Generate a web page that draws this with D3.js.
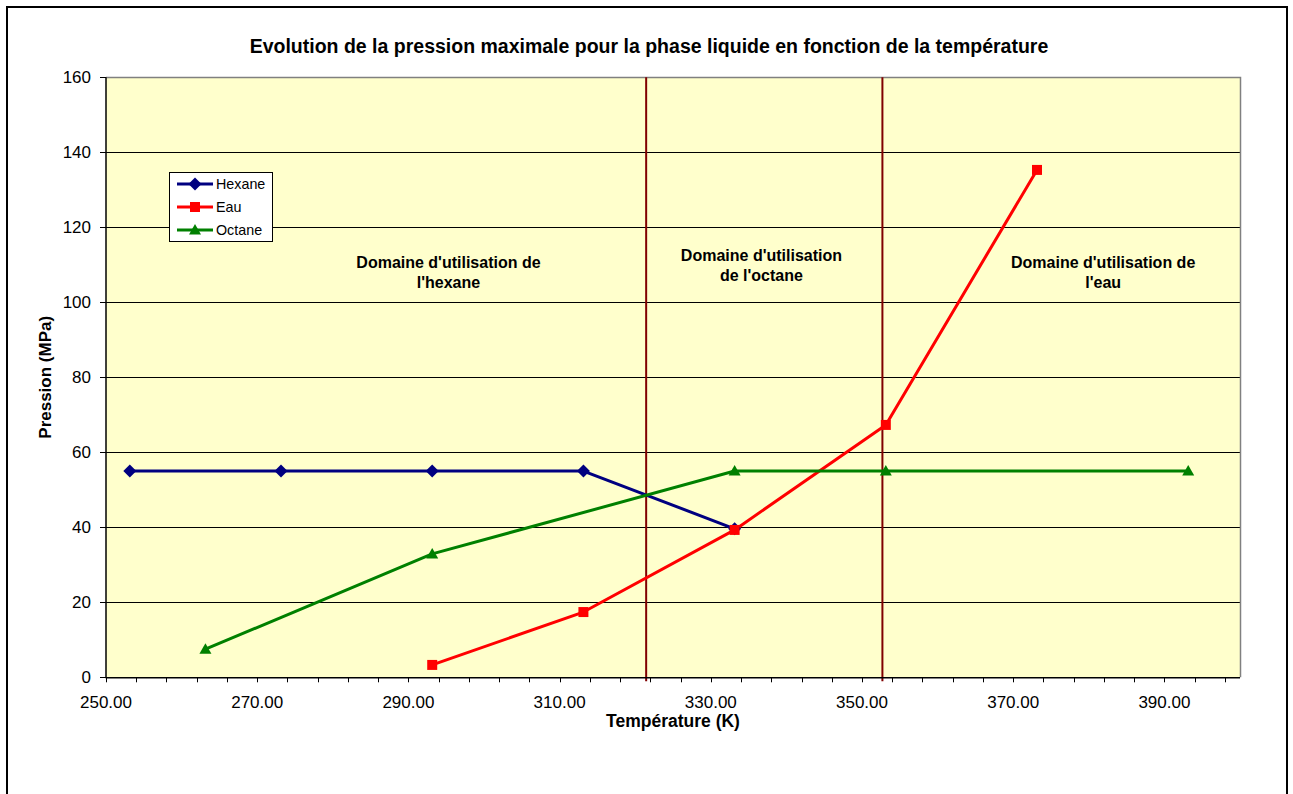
<!DOCTYPE html>
<html>
<head>
<meta charset="utf-8">
<script src="https://cdn.jsdelivr.net/npm/d3@7"></script>
<style>
  html, body { margin: 0; padding: 0; background: #fff; }
  svg { display: block; font-family: "Liberation Sans", Arial, sans-serif; }
</style>
</head>
<body>
<svg id="chart" width="1293" height="794"></svg>
<script>
// ---- data ----
const title = "Evolution de la pression maximale pour la phase liquide en fonction de la température";
const xTitle = "Température (K)";
const yTitle = "Pression (MPa)";

const hexaneT = [253.15, 273.15, 293.15, 313.15, 333.15];
const hexaneP = [55, 55, 55, 55, 39.6];

const eauT = [293.15, 313.15, 333.15, 353.15, 373.15];
const eauP = [3.3, 17.4, 39.3, 67.3, 135.3];

const octaneT = [263.15, 293.15, 333.15, 353.15, 393.15];
const octaneP = [7.5, 32.9, 55, 55, 55];

const limitT = [321.45, 352.7];   // vertical domain boundaries

const xTicks = [250, 270, 290, 310, 330, 350, 370, 390];
const yTicks = [0, 20, 40, 60, 80, 100, 120, 140, 160];

const seriesNames = ["Hexane", "Eau", "Octane"];
const domainLabels = [
  ["Domaine d'utilisation de", "l'hexane"],
  ["Domaine d'utilisation", "de l'octane"],
  ["Domaine d'utilisation de", "l'eau"]
];

// ---- layout ----
const svg = d3.select("#chart");
const L = 106, R = 1240, T = 77.3, B = 677.3;
const x = d3.scaleLinear().domain([250, 400]).range([L, R]);
const y = d3.scaleLinear().domain([0, 160]).range([B, T]);

const colors = { Hexane: "#000080", Eau: "#FF0000", Octane: "#008000" };
const series = [
  { name: "Hexane", pts: hexaneT.map((t, i) => [t, hexaneP[i]]), marker: "diamond" },
  { name: "Eau", pts: eauT.map((t, i) => [t, eauP[i]]), marker: "square" },
  { name: "Octane", pts: octaneT.map((t, i) => [t, octaneP[i]]), marker: "triangle" }
];

// chart area border (bottom is outside the viewport)
svg.append("path")
  .attr("d", "M7,800 L7,7 L1287,7 L1287,800")
  .attr("fill", "none").attr("stroke", "#000").attr("stroke-width", 2);

// title
svg.append("text")
  .attr("x", 649).attr("y", 53)
  .attr("text-anchor", "middle")
  .attr("font-size", 19.5).attr("font-weight", "bold")
  .text(title);

// plot area background
svg.append("rect")
  .attr("x", L).attr("y", T).attr("width", R - L).attr("height", B - T)
  .attr("fill", "#FFFFCC");

// gridlines
svg.append("g").selectAll("line")
  .data(yTicks.filter(v => v > 0 && v < 160))
  .join("line")
  .attr("x1", L).attr("x2", R)
  .attr("y1", d => Math.round(y(d)) + 0.5).attr("y2", d => Math.round(y(d)) + 0.5)
  .attr("stroke", "#000").attr("stroke-width", 1);

// plot border (top/right gray)
svg.append("path")
  .attr("d", `M${L},${Math.round(T)+0.5} L${R+0.5},${Math.round(T)+0.5} L${R+0.5},${B}`)
  .attr("fill", "none").attr("stroke", "#808080").attr("stroke-width", 1.5);

// domain boundary lines
svg.append("g").selectAll("line")
  .data(limitT)
  .join("line")
  .attr("x1", d => x(d)).attr("x2", d => x(d))
  .attr("y1", y(160)).attr("y2", y(0) + 4)
  .attr("stroke", "#800000").attr("stroke-width", 2);

// series lines
const line = d3.line().x(d => x(d[0])).y(d => y(d[1]));
series.forEach(s => {
  svg.append("path")
    .datum(s.pts)
    .attr("d", line)
    .attr("fill", "none")
    .attr("stroke", colors[s.name])
    .attr("stroke-width", 3)
    .attr("stroke-linejoin", "round");
});

function markerPath(type) {
  if (type === "diamond") return "M0,-6.5 L6.5,0 L0,6.5 L-6.5,0 Z";
  if (type === "square") return "M-5,-5 L5,-5 L5,5 L-5,5 Z";
  return "M0,-6 L6,4.5 L-6,4.5 Z";
}

series.forEach(s => {
  svg.append("g").selectAll("path")
    .data(s.pts)
    .join("path")
    .attr("transform", d => `translate(${x(d[0])},${y(d[1])})`)
    .attr("d", markerPath(s.marker))
    .attr("fill", colors[s.name]);
});

// axes
const xAxisG = svg.append("g").attr("transform", `translate(0,${B})`);
xAxisG.append("line").attr("x1", L).attr("x2", R).attr("y1", 0.5).attr("y2", 0.5)
  .attr("stroke", "#000").attr("stroke-width", 1.5);
const minorX = d3.range(250, 400, 4);
xAxisG.selectAll("line.minor").data(minorX).join("line").attr("class", "minor")
  .attr("x1", d => Math.round(x(d)) + 0.5).attr("x2", d => Math.round(x(d)) + 0.5)
  .attr("y1", 0).attr("y2", 5).attr("stroke", "#000");
xAxisG.selectAll("text").data(xTicks).join("text")
  .attr("x", d => x(d)).attr("y", 31)
  .attr("text-anchor", "middle").attr("font-size", 17)
  .text(d => d3.format(".2f")(d));

const yAxisG = svg.append("g").attr("transform", `translate(${L},0)`);
yAxisG.append("line").attr("x1", 0).attr("x2", 0).attr("y1", T).attr("y2", B + 1)
  .attr("stroke", "#000").attr("stroke-width", 1.5);
yAxisG.selectAll("line.tick").data(yTicks).join("line").attr("class", "tick")
  .attr("x1", -6).attr("x2", 0)
  .attr("y1", d => Math.round(y(d)) + 0.5).attr("y2", d => Math.round(y(d)) + 0.5)
  .attr("stroke", "#000");
yAxisG.selectAll("text").data(yTicks).join("text")
  .attr("x", -15).attr("y", d => y(d) + 6)
  .attr("text-anchor", "end").attr("font-size", 17)
  .text(d => d);

// axis titles
svg.append("text")
  .attr("x", (L + R) / 2).attr("y", 727)
  .attr("text-anchor", "middle").attr("font-size", 17.5).attr("font-weight", "bold")
  .text(xTitle);
svg.append("text")
  .attr("transform", `translate(51,${(T + B) / 2}) rotate(-90)`)
  .attr("text-anchor", "middle").attr("font-size", 17).attr("font-weight", "bold")
  .text(yTitle);

// domain labels
const labelPos = [
  { cx: 295.3, cy: 109.1 },
  { cx: 336.7, cy: 111.1 },
  { cx: 381.9, cy: 109.1 }
];
domainLabels.forEach((lines, i) => {
  const t = svg.append("text")
    .attr("text-anchor", "middle").attr("font-size", 16).attr("font-weight", "bold");
  lines.forEach((ln, j) => {
    t.append("tspan").attr("x", x(labelPos[i].cx)).attr("y", y(labelPos[i].cy) + j * 20).text(ln);
  });
});

// legend
const lg = svg.append("g");
lg.append("rect").attr("x", 169.5).attr("y", 172.5).attr("width", 103).attr("height", 69)
  .attr("fill", "#fff").attr("stroke", "#000").attr("stroke-width", 1);
series.forEach((s, i) => {
  const yy = 184 + i * 23;
  lg.append("line").attr("x1", 177).attr("x2", 213).attr("y1", yy).attr("y2", yy)
    .attr("stroke", colors[s.name]).attr("stroke-width", 3);
  lg.append("path").attr("transform", `translate(195,${yy})`)
    .attr("d", markerPath(s.marker)).attr("fill", colors[s.name]);
  lg.append("text").attr("x", 216).attr("y", yy + 5)
    .attr("font-size", 14.3).text(seriesNames[i]);
});
</script>
</body>
</html>
